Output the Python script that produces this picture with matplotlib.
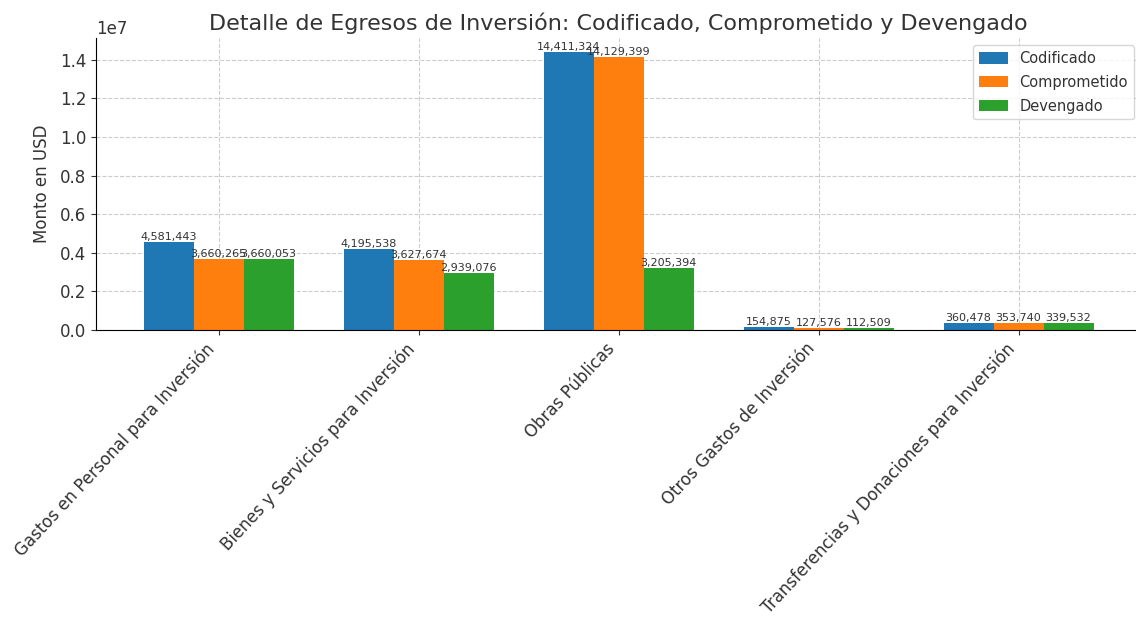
import numpy as np
import matplotlib.pyplot as plt

categorias = ['Gastos en Personal para Inversión', 'Bienes y Servicios para Inversión',
              'Obras Públicas', 'Otros Gastos de Inversión',
              'Transferencias y Donaciones para Inversión']
codificado = [4581443, 4195538, 14411324, 154875, 360478]
comprometido = [3660265, 3627674, 14129399, 127576, 353740]
devengado = [3660053, 2939076, 3205394, 112509, 339532]

plt.rcParams['text.color'] = '#333333'
plt.rcParams['axes.labelcolor'] = '#333333'
plt.rcParams['xtick.color'] = '#333333'
plt.rcParams['ytick.color'] = '#333333'

fig = plt.figure(figsize=(11.36, 6.22), dpi=100)
ax = fig.add_axes([96 / 1136, 1 - 330 / 622, (1141 - 96) / 1136, (330 - 38) / 622])

x = np.arange(len(categorias))
w = 0.25
series = [('Codificado', codificado, '#1f77b4'),
          ('Comprometido', comprometido, '#ff7f0e'),
          ('Devengado', devengado, '#2ca02c')]
for i, (name, vals, color) in enumerate(series):
    bars = ax.bar(x + (i - 1) * w, vals, w, label=name, color=color)
    ax.bar_label(bars, labels=[f'{v:,}' for v in vals], fontsize=8, color='#333333')

ax.set_title('Detalle de Egresos de Inversión: Codificado, Comprometido y Devengado', fontsize=16)
ax.set_ylabel('Monto en USD', fontsize=12, labelpad=6)
ax.set_xticks(x)
ax.set_xticklabels(categorias, rotation=47, ha='right', fontsize=12)
ax.tick_params(axis='y', labelsize=12)
ax.grid(True, linestyle='--', color='#cccccc', linewidth=0.8)
ax.set_axisbelow(True)
ax.spines['top'].set_visible(False)
ax.spines['right'].set_visible(False)
ax.yaxis.get_offset_text().set_fontsize(12)
ax.legend(loc='upper right', fontsize=10.5, labelspacing=0.6, handleheight=0.8)

fig.savefig('out.png', dpi=100)
